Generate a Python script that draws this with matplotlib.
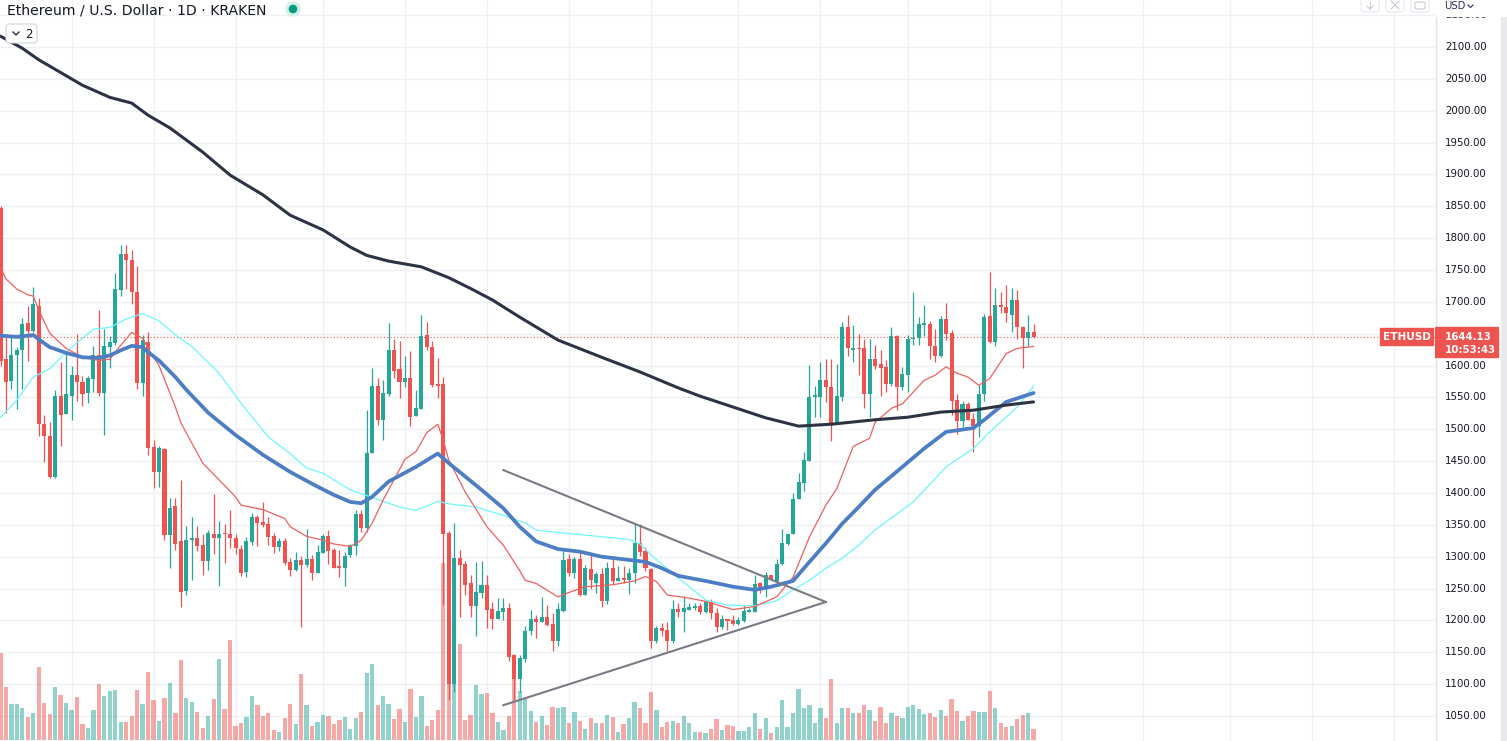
import matplotlib
matplotlib.use('Agg')
import matplotlib.pyplot as plt
import matplotlib.patches as mpatches
import matplotlib.transforms as mtransforms
import numpy as np
import pandas as pd

plt.rcParams['font.family'] = ['DejaVu Sans']

# ETH/USD daily candles, first candle 2022-08-19
start_day = '2022-08-19'

opens = [1848,1610,1576,1617,1624,1667,1655,1694,1508,1490,
         1425,1553,1524,1553,1586,1575,1557,1579,1617,1557,
         1629,1636,1718,1775,1766,1716,1573,1637,1472,1433,
         1469,1334,1380,1324,1247,1326,1329,1318,1294,1336,
         1329,1338,1336,1329,1312,1276,1323,1363,1354,1352,
         1332,1316,1324,1292,1279,1295,1287,1297,1275,1306,
         1332,1310,1285,1282,1302,1317,1367,1345,1463,1568,
         1515,1556,1624,1594,1575,1581,1521,1532,1648,1629,
         1571,1571,1337,1101,1298,1289,1258,1222,1243,1255,
         1218,1202,1214,1219,1145,1108,1140,1184,1203,1198,
         1205,1194,1168,1215,1296,1275,1296,1240,1281,1259,
         1273,1231,1283,1262,1267,1263,1275,1322,1309,1280,
         1167,1188,1185,1168,1218,1214,1217,1220,1222,1214,
         1229,1211,1190,1202,1201,1195,1199,1214,1214,1258,
         1250,1271,1262,1289,1320,1336,1390,1416,1450,1550,
         1551,1577,1567,1510,1551,1660,1625,1627,1627,1555,
         1611,1602,1598,1571,1646,1567,1586,1641,1643,1664,
         1666,1631,1615,1673,1651,1546,1513,1540,1516,1505,
         1556,1678,1637,1695,1692,1679,1703,1660,1643,1652]

highs = [1850,1649,1646,1629,1674,1693,1723,1706,1522,1512,
         1561,1605,1621,1600,1649,1583,1583,1630,1687,1658,
         1647,1746,1789,1789,1782,1757,1648,1653,1484,1474,
         1470,1392,1392,1420,1349,1362,1349,1336,1342,1399,
         1356,1352,1373,1335,1318,1331,1369,1365,1386,1362,
         1338,1329,1329,1298,1308,1301,1344,1302,1318,1336,
         1342,1313,1310,1308,1320,1373,1373,1530,1596,1581,
         1578,1667,1642,1638,1615,1623,1562,1680,1668,1639,
         1612,1582,1340,1353,1311,1293,1271,1292,1293,1271,
         1229,1235,1235,1228,1148,1145,1192,1216,1208,1237,
         1224,1211,1227,1309,1304,1299,1310,1287,1304,1276,
         1282,1292,1297,1285,1285,1283,1352,1351,1316,1282,
         1191,1196,1198,1232,1227,1238,1227,1228,1227,1232,
         1233,1219,1208,1203,1208,1206,1224,1220,1271,1260,
         1276,1271,1297,1344,1336,1400,1432,1465,1601,1568,
         1606,1610,1610,1603,1669,1679,1664,1649,1641,1641,
         1632,1624,1608,1661,1648,1598,1648,1716,1677,1695,
         1670,1658,1678,1699,1656,1555,1545,1543,1526,1569,
         1681,1747,1721,1715,1726,1721,1718,1662,1679,1665]

lows = [1600,1526,1564,1532,1564,1607,1653,1490,1449,1423,
        1423,1474,1524,1514,1545,1536,1541,1559,1553,1491,
        1597,1633,1710,1720,1696,1563,1553,1460,1408,1410,
        1327,1282,1310,1221,1240,1263,1309,1271,1279,1305,
        1254,1290,1313,1305,1270,1268,1318,1317,1347,1318,
        1306,1309,1287,1270,1278,1190,1284,1263,1275,1306,
        1289,1282,1268,1254,1300,1302,1339,1339,1463,1507,
        1484,1552,1580,1549,1567,1505,1521,1532,1625,1566,
        1549,1225,1075,1088,1205,1240,1205,1175,1235,1188,
        1186,1202,1200,1137,1075,1088,1135,1177,1173,1198,
        1191,1152,1160,1214,1269,1267,1239,1240,1249,1243,
        1221,1226,1257,1262,1259,1242,1258,1301,1278,1156,
        1165,1175,1152,1165,1206,1182,1217,1217,1210,1212,
        1203,1182,1187,1185,1193,1193,1198,1214,1214,1243,
        1237,1263,1260,1287,1318,1335,1390,1403,1450,1519,
        1520,1543,1482,1509,1545,1615,1605,1585,1533,1520,
        1595,1552,1559,1568,1531,1561,1559,1632,1632,1646,
        1610,1606,1613,1640,1522,1492,1504,1514,1465,1488,
        1545,1636,1631,1682,1669,1652,1641,1597,1630,1643]

closes = [1607,1575,1617,1625,1666,1655,1697,1508,1489,1425,
          1553,1522,1555,1586,1575,1556,1580,1617,1557,1630,
          1637,1720,1775,1766,1715,1573,1640,1470,1433,1470,
          1334,1377,1320,1245,1327,1329,1317,1294,1338,1329,
          1336,1335,1329,1313,1275,1324,1363,1353,1350,1331,
          1316,1324,1290,1279,1295,1287,1297,1274,1308,1332,
          1309,1283,1282,1301,1318,1367,1345,1463,1568,1515,
          1557,1624,1592,1575,1581,1520,1534,1646,1629,1570,
          1568,1336,1101,1298,1287,1256,1222,1244,1255,1217,
          1202,1215,1220,1143,1108,1141,1184,1203,1198,1205,
          1193,1168,1218,1295,1275,1296,1240,1282,1263,1273,
          1231,1283,1262,1267,1264,1275,1322,1308,1282,1167,
          1188,1184,1168,1218,1214,1219,1221,1222,1214,1229,
          1211,1190,1203,1199,1195,1200,1215,1216,1257,1250,
          1271,1263,1289,1321,1335,1390,1418,1452,1551,1554,
          1577,1566,1510,1553,1660,1627,1628,1626,1555,1611,
          1600,1596,1571,1646,1567,1587,1642,1644,1665,1667,
          1630,1615,1673,1649,1545,1513,1540,1515,1505,1556,
          1677,1637,1695,1692,1682,1703,1660,1643,1652,1644.13]

# volume (thousand ETH)
volumes = [87,53,36,36,32,23,27,73,37,26,53,45,37,30,43,16,12,30,56,44,
           49,50,18,18,24,50,36,68,40,19,42,57,
           27,80,42,38,28,12,24,41,81,31,100,14,17,23,44,35,24,27,10,8,
           22,36,16,66,35,14,18,25,24,16,20,23,
           11,22,28,67,76,35,44,36,21,31,18,51,23,44,14,20,30,177,187,111,
           96,20,25,55,46,47,27,18,10,24,66,49,
           41,29,18,24,15,33,32,33,17,28,19,11,22,17,17,25,23,8,16,22,
           38,32,17,48,30,13,18,19,17,24,17,8,
           8,7,11,21,10,15,14,9,9,13,27,11,22,7,13,40,13,27,51,32,
           35,17,32,22,61,17,32,32,27,27,35,30,
           19,33,17,27,24,22,33,35,31,26,27,23,30,24,41,29,19,24,29,28,
           28,49,32,17,13,14,21,25,27,11]

# moving averages (day index, value)
ma200_day = [0,4,7,11,15,20,24,27,31,37,42,48,53,59,64,67,71,77,82,86,90,95,102,
             110,117,124,128,134,140,146,152,160,166,172,178,184,189]
ma200 = [2117,2098,2080,2060,2040,2021,2012,1993,1973,1935,1899,1868,1836,1813,1786,1773,1764,1755,1738,1721,1703,1676,1640,
         1613,1590,1565,1552,1535,1518,1505,1508,1515,1519,1527,1530,1538,1543]

ma_blue_day = [0,3,6,7,9,12,15,18,20,22,24,26,27,29,32,34,38,43,48,53,
               58,61,64,66,68,71,76,80,82,84,88,92,95,98,102,106,110,115,118,121,
               124,129,134,138,141,145,148,151,154,157,160,165,169,173,178,180,184,189]
ma_blue = [1647,1645,1648,1641,1629,1620,1613,1612,1616,1624,1631,1629,1621,1608,1582,1562,1526,1491,1460,1433,
           1410,1397,1386,1384,1394,1418,1441,1462,1447,1433,1405,1376,1347,1324,1312,1308,1300,1295,1292,1282,
           1270,1262,1253,1248,1253,1262,1292,1321,1352,1378,1405,1441,1470,1496,1502,1515,1543,1557]

ma_cyan_day = [0,3,6,9,12,15,17,20,23,26,29,32,35,40,44,49,53,56,59,64,
               68,73,76,79,80,82,87,92,96,98,102,107,115,117,119,123,126,129,133,138,
               142,145,148,151,154,157,160,167,173,178,181,186,189]
ma_cyan = [1519,1546,1582,1595,1621,1643,1657,1660,1673,1682,1670,1648,1630,1588,1541,1488,1462,1439,1431,1405,
           1393,1378,1373,1383,1387,1383,1378,1365,1353,1342,1338,1334,1327,1320,1303,1274,1253,1232,1224,1223,
           1231,1248,1263,1282,1298,1318,1342,1386,1441,1470,1496,1535,1568]

ma_red_day = [0,1,3,5,6,7,9,11,12,15,18,20,22,24,26,27,29,32,33,37,
              43,44,48,52,53,56,59,61,64,66,68,70,74,76,78,80,81,82,85,89,
              92,95,96,98,102,104,107,112,116,118,120,122,126,129,134,138,142,145,148,151,
              153,156,159,160,163,165,169,171,173,175,177,179,181,184,186,189]
ma_red = [1754,1736,1720,1711,1709,1687,1651,1635,1627,1613,1608,1610,1632,1652,1643,1627,1600,1535,1510,1447,
          1394,1381,1374,1360,1347,1332,1326,1320,1316,1326,1353,1389,1453,1465,1495,1508,1483,1452,1402,1347,
          1318,1278,1263,1258,1237,1244,1253,1256,1262,1269,1261,1240,1235,1230,1217,1222,1237,1268,1331,1381,
          1407,1473,1486,1511,1533,1540,1577,1585,1598,1588,1582,1569,1580,1619,1627,1630]

# drawn triangle (day, price)
tri_upper_day = [92, 151]
tri_upper = [1436, 1229]
tri_lower_day = [92, 151]
tri_lower = [1067, 1229]

grid_dates = ['2022-09-01','2022-09-16','2022-10-01','2022-10-17','2022-11-01','2022-11-16',
              '2022-12-01','2022-12-16','2023-01-01','2023-01-16','2023-02-01','2023-02-16',
              '2023-03-01','2023-03-16','2023-04-01','2023-04-16','2023-05-01']
price_ticks = list(range(1050, 2151, 50))
last_price = 1644.13
countdown = '10:53:43'
title = 'Ethereum / U.S. Dollar \u00b7 1D \u00b7 KRAKEN'

GREEN = '#26A69A'
RED = '#EF5350'
GRID = '#EEF0F4'
TXT = '#131722'

W, H = 1507, 741
PANE_W = 1435
DX = 5.466           # pixels per day
YLO, YHI = 1010.8, 2173.8

fig = plt.figure(figsize=(W/100, H/100), dpi=100)
fig.patch.set_facecolor('white')

ax = fig.add_axes([0, 0, PANE_W/W, 1])
ax.set_xlim(-0.5/DX, (PANE_W-0.5)/DX)
ax.set_ylim(YLO, YHI)
ax.axis('off')

t0 = pd.Timestamp(start_day)
for d in grid_dates:
    ax.axvline((pd.Timestamp(d) - t0).days, color=GRID, lw=1.0, zorder=0)
for p in price_ticks:
    ax.axhline(p, color=GRID, lw=1.0, zorder=0)

days = np.arange(len(closes))
o = np.array(opens, float); c = np.array(closes, float)
hi = np.array(highs, float); lo = np.array(lows, float)
up = c >= o
cols = np.where(up, GREEN, RED)

# volume pane at the bottom, 1 unit = 1 px above the base
vol_y = mtransforms.Affine2D().translate(0, 1).scale(1, 1/H) + ax.transAxes
vol_tf = mtransforms.blended_transform_factory(ax.transData, vol_y)
ax.bar(days, volumes, width=0.78, color=cols, alpha=0.5, linewidth=0,
       transform=vol_tf, zorder=1)

# candles
ax.vlines(days, lo, hi, colors=cols, lw=0.9, zorder=4)
body_lo = np.minimum(o, c)
body_h = np.maximum(np.abs(c - o), 1.6)
ax.bar(days, body_h, bottom=body_lo, width=0.74, color=cols, linewidth=0, zorder=5)

# moving averages
ax.plot(ma_cyan_day, ma_cyan, color='#6EF6FF', lw=0.9, zorder=6)
ax.plot(ma_red_day, ma_red, color='#F0605C', lw=0.9, zorder=6)
ax.plot(ma_blue_day, ma_blue, color='#4D7DC3', lw=2.7, zorder=6, solid_capstyle='round')
ax.plot(ma200_day, ma200, color='#2C3342', lw=2.2, zorder=6, solid_capstyle='round')

# triangle
ax.plot(tri_upper_day, tri_upper, color='#787B86', lw=1.5, zorder=7)
ax.plot(tri_lower_day, tri_lower, color='#787B86', lw=1.5, zorder=7)

# last price line and symbol tag
ax.axhline(last_price, color=RED, lw=0.8, ls=(0, (1, 2)), zorder=3)
bl = mtransforms.blended_transform_factory(ax.transAxes, ax.transData)
px_y = (YHI - YLO) / H
ax.add_patch(mpatches.Rectangle((1380/PANE_W, last_price - 8*px_y), 53/PANE_W, 17*px_y,
                                transform=bl, color=RED, zorder=8, clip_on=False))
ax.text(1406.5/PANE_W, last_price, 'ETHUSD', transform=bl, ha='center', va='center',
        color='white', fontsize=7.6, fontweight='bold', zorder=9)

# price scale
axp = fig.add_axes([PANE_W/W, 0, (W-PANE_W)/W, 1])
axp.set_xlim(0, W-PANE_W)
axp.set_ylim(YLO, YHI)
axp.axis('off')
axp.axvline(0.5, color='#E0E3EB', lw=1.0)
for p in price_ticks:
    if abs(p - last_price) < 20:
        continue
    axp.text(10, p, f'{p:.2f}', ha='left', va='center', fontsize=7.4, color=TXT)
axp.add_patch(mpatches.Rectangle((0, YHI - 16*px_y), W-PANE_W, 16*px_y, color='white', zorder=3))
axp.text(9, YHI - 6*px_y, 'USD', ha='left', va='center', fontsize=7.2, color='#2E2A5C', zorder=4)
axp.plot([33, 35.5, 38], [YHI-5*px_y, YHI-7.5*px_y, YHI-5*px_y], color='#2E2A5C', lw=0.8, zorder=4)
axp.add_patch(mpatches.Rectangle((0, last_price - 20*px_y), 63, 30*px_y, color=RED, zorder=5))
axp.text(10, last_price, f'{last_price:.2f}', ha='left', va='center', fontsize=7.4,
         color='white', fontweight='bold', zorder=6)
axp.text(10, last_price - 13*px_y, countdown, ha='left', va='center', fontsize=7.4,
         color='white', fontweight='bold', zorder=6)
axp.add_patch(mpatches.Rectangle((W-PANE_W-6, YLO), 6, YHI-YLO, color='#E9E9EB', zorder=2))

# legend overlay in pixel coordinates
axo = fig.add_axes([0, 0, 1, 1])
axo.set_xlim(0, W)
axo.set_ylim(H, 0)
axo.axis('off')
axo.text(7, 10, title, ha='left', va='center', fontsize=10.1, color=TXT)
axo.add_patch(mpatches.Circle((293, 9), 7, color='#D3EFEA'))
axo.add_patch(mpatches.Circle((293, 9), 3.6, color='#089981'))
axo.add_patch(mpatches.FancyBboxPatch((6, 24), 31, 19, boxstyle='round,pad=0,rounding_size=3',
                                      facecolor='white', edgecolor='#D1D4DC', lw=0.8))
axo.plot([13, 16, 19], [32, 35, 32], color=TXT, lw=0.9)
axo.text(29, 34, '2', ha='center', va='center', fontsize=8.5, color=TXT)
for x0 in (1361, 1386, 1411):
    axo.add_patch(mpatches.FancyBboxPatch((x0, -4), 18, 16, boxstyle='round,pad=0,rounding_size=3',
                                          facecolor='white', edgecolor='#E6E8EE', lw=0.8))
axo.plot([1370, 1370], [2, 9], color='#C8CBD3', lw=0.8)
axo.plot([1367, 1370, 1373], [6, 9, 6], color='#C8CBD3', lw=0.8)
axo.plot([1391, 1399], [1, 9], color='#C8CBD3', lw=0.8)
axo.plot([1399, 1391], [1, 9], color='#C8CBD3', lw=0.8)
axo.add_patch(mpatches.FancyBboxPatch((1415, 2), 10, 7, boxstyle='round,pad=0,rounding_size=2',
                                      facecolor='none', edgecolor='#C8CBD3', lw=0.8))

fig.savefig('out.png', dpi=100, facecolor='white')
